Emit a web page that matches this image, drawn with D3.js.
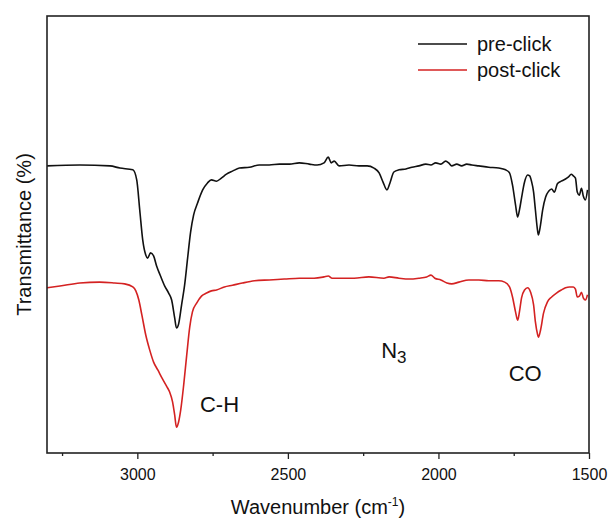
<!DOCTYPE html>
<html>
<head>
<meta charset="utf-8">
<script src="https://cdn.jsdelivr.net/npm/d3@7/dist/d3.min.js"></script>
<style>
  html, body { margin: 0; padding: 0; background: #fff; }
  svg { display: block; font-family: "Liberation Sans", Arial, sans-serif; }
</style>
</head>
<body>
<svg id="chart" width="609" height="522"></svg>
<script>
// FTIR spectra: [wavenumber (cm^-1), transmittance (a.u.)]
const preClick = [
  [3300,65.7],[3191,65.9],[3091,65.7],[3058,65.2],[3015,64.8],[3002,62.5],[2992,55.6],[2982,48.7],
  [2972,45.3],[2966,44.6],[2956,45.8],[2946,45.1],[2936,42.8],[2923,40.5],[2909,38.2],[2896,36.6],
  [2886,35.0],[2876,30.9],[2870,28.6],[2863,29.5],[2853,33.9],[2843,38.4],[2833,44.6],[2823,50.6],
  [2813,54.5],[2800,57.2],[2783,60.2],[2767,61.8],[2754,62.5],[2737,62.2],[2721,62.9],[2704,63.8],
  [2684,64.5],[2661,65.2],[2628,65.4],[2595,65.9],[2562,65.9],[2528,66.1],[2495,66.1],[2462,66.4],
  [2429,66.1],[2403,65.9],[2380,66.4],[2366,67.7],[2356,66.4],[2346,66.8],[2330,65.7],[2297,65.9],
  [2264,65.7],[2237,65.7],[2214,65.2],[2197,64.1],[2184,62.0],[2171,60.2],[2161,61.8],[2148,64.3],
  [2131,64.8],[2108,65.0],[2088,65.4],[2065,65.7],[2042,66.1],[2025,65.9],[2009,66.4],[1992,66.1],
  [1976,66.8],[1966,66.4],[1956,65.7],[1939,66.1],[1923,65.7],[1906,66.1],[1889,65.9],[1866,65.7],
  [1833,65.4],[1800,65.2],[1777,64.8],[1764,64.1],[1754,61.3],[1744,56.8],[1737,54.0],[1731,55.6],
  [1724,58.4],[1714,62.0],[1704,63.6],[1697,63.4],[1691,62.2],[1684,59.7],[1678,55.6],[1671,51.0],
  [1668,49.9],[1661,52.2],[1654,55.6],[1644,58.6],[1634,59.9],[1624,60.4],[1615,59.7],[1605,61.6],
  [1592,62.2],[1578,62.7],[1568,63.2],[1559,63.8],[1552,63.4],[1545,62.9],[1539,59.7],[1532,59.0],
  [1525,60.6],[1519,58.8],[1512,57.9],[1505,60.2]
];

const postClick = [
  [3300,37.8],[3257,38.2],[3191,38.9],[3125,39.1],[3075,38.9],[3042,38.7],[3015,38.0],[3005,37.1],
  [2995,35.0],[2985,31.6],[2972,27.0],[2959,23.6],[2946,20.8],[2932,19.0],[2916,16.9],[2903,15.3],
  [2893,14.0],[2883,11.7],[2876,8.7],[2870,5.9],[2863,7.1],[2856,9.8],[2846,15.6],[2836,22.4],
  [2826,28.8],[2817,32.3],[2803,34.3],[2787,35.9],[2770,36.6],[2754,37.1],[2737,37.3],[2711,38.0],
  [2684,38.4],[2651,38.9],[2611,39.4],[2562,39.6],[2512,39.8],[2462,40.0],[2413,40.0],[2380,40.3],
  [2366,40.5],[2353,40.0],[2330,40.0],[2280,40.0],[2231,40.3],[2181,40.0],[2164,40.3],[2131,40.0],
  [2098,39.8],[2065,40.0],[2039,40.3],[2025,40.7],[2012,40.0],[1992,39.6],[1972,38.9],[1956,38.7],
  [1932,39.1],[1899,39.6],[1866,39.6],[1833,39.4],[1800,39.4],[1780,39.1],[1764,38.0],[1754,35.7],
  [1744,32.3],[1737,30.4],[1731,32.3],[1724,35.5],[1714,37.3],[1704,37.8],[1694,36.8],[1684,33.9],
  [1678,30.0],[1671,27.2],[1668,26.5],[1661,28.1],[1651,32.0],[1638,34.6],[1624,35.7],[1608,36.6],
  [1592,37.3],[1578,37.8],[1565,38.0],[1552,38.0],[1545,37.5],[1539,35.7],[1532,35.9],[1525,36.8],
  [1519,35.5],[1512,35.0],[1505,36.2]
];

const seriesNames = ["pre-click", "post-click"];
const seriesColors = ["#111111", "#d42222"];
const majorTicks = [3000, 2500, 2000, 1500];
const minorTicks = [3250, 2750, 2250, 1750];

// Band assignments: [label, wavenumber, transmittance at label baseline]
const bandLabels = [
  ["C-H", 2727, 9.4],
  ["CO", 1712, 16.5]
];
const azideLabel = { wn: 2148, t: 21.7 };

const svg = d3.select("#chart");
const plot = { left: 47, right: 589, top: 16, bottom: 453 };

const x = d3.scaleLinear().domain([3300, 1500]).range([plot.left, plot.right]);
const y = d3.scaleLinear().domain([0, 100]).range([plot.bottom, plot.top]);

// Bottom axis: major and minor ticks
const axisG = svg.append("g").attr("transform", `translate(0,${plot.bottom})`);
axisG.call(d3.axisBottom(x).tickValues(majorTicks).tickSize(6).tickFormat(d3.format("d")))
  .call(g => g.select(".domain").remove())
  .call(g => g.selectAll(".tick line").attr("stroke", "#222").attr("stroke-width", 1.3))
  .call(g => g.selectAll(".tick text")
    .attr("font-size", 16).attr("fill", "#111").attr("dy", "1.1em")
    .attr("font-family", "\"Liberation Sans\", Arial, sans-serif"));
svg.append("g").attr("transform", `translate(0,${plot.bottom})`)
  .call(d3.axisBottom(x).tickValues(minorTicks).tickSize(3).tickFormat(""))
  .call(g => g.select(".domain").remove())
  .call(g => g.selectAll(".tick line").attr("stroke", "#222").attr("stroke-width", 1.3));

// Spectra
const line = d3.line().x(d => x(d[0])).y(d => y(d[1])).curve(d3.curveMonotoneX);
[preClick, postClick].forEach((data, i) => {
  svg.append("path")
    .datum(data)
    .attr("fill", "none")
    .attr("stroke", seriesColors[i])
    .attr("stroke-width", 1.6)
    .attr("stroke-linejoin", "round")
    .attr("d", line);
});

// Frame
svg.append("rect")
  .attr("x", plot.left).attr("y", plot.top)
  .attr("width", plot.right - plot.left).attr("height", plot.bottom - plot.top)
  .attr("fill", "none").attr("stroke", "#222").attr("stroke-width", 1.6);

// Legend
const legend = svg.append("g");
seriesNames.forEach((name, i) => {
  const ly = 44 + i * 26;
  legend.append("line")
    .attr("x1", 418).attr("x2", 467).attr("y1", ly).attr("y2", ly)
    .attr("stroke", seriesColors[i]).attr("stroke-width", 1.6);
  legend.append("text")
    .attr("x", 477).attr("y", ly).attr("dy", "0.35em")
    .attr("font-size", 20).attr("fill", "#111").text(name);
});

// Band labels
bandLabels.forEach(([label, wn, t]) => {
  svg.append("text")
    .attr("x", x(wn)).attr("y", y(t))
    .attr("text-anchor", "middle")
    .attr("font-size", 22).attr("fill", "#111").text(label);
});
const n3 = svg.append("text")
  .attr("x", x(azideLabel.wn)).attr("y", y(azideLabel.t))
  .attr("text-anchor", "middle")
  .attr("font-size", 22).attr("fill", "#111");
n3.append("tspan").text("N");
n3.append("tspan").attr("font-size", 17).attr("dy", 5).text("3");

// Axis titles
const xt = svg.append("text")
  .attr("x", (plot.left + plot.right) / 2).attr("y", 514)
  .attr("text-anchor", "middle").attr("font-size", 20).attr("fill", "#111");
xt.append("tspan").text("Wavenumber (cm");
xt.append("tspan").attr("font-size", 12).attr("dy", -8).text("-1");
xt.append("tspan").attr("dy", 8).text(")");

svg.append("text")
  .attr("transform", `translate(31,${(plot.top + plot.bottom) / 2}) rotate(-90)`)
  .attr("text-anchor", "middle").attr("font-size", 20).attr("fill", "#111")
  .text("Transmittance (%)");
</script>
</body>
</html>
